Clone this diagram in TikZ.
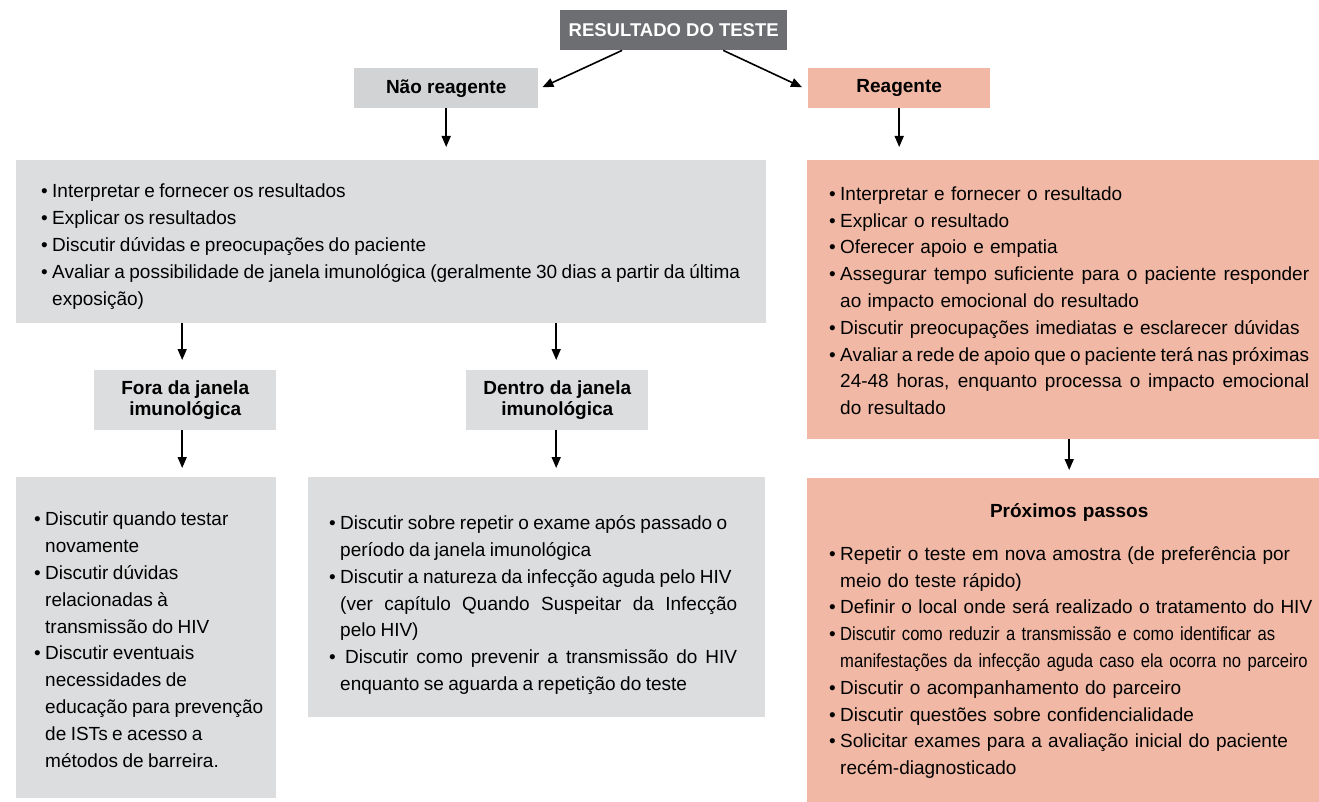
\documentclass[tikz,border=0pt]{standalone}
\usepackage{fontspec}
\setmainfont{Liberation Sans}
\newfontfamily\condfont[FakeStretch=0.875]{Liberation Sans}
\usetikzlibrary{arrows.meta,calc}
\definecolor{darkg}{HTML}{6D6E71}
\definecolor{labg}{HTML}{D1D3D4}
\definecolor{boxg}{HTML}{DCDDDE}
\definecolor{salm}{HTML}{F1B9A5}
\newcommand\bu{\makebox[11pt][l]{•}}
\newcommand\ci{\hspace*{11pt}}
\newcommand\jl[2]{\makebox[#1][s]{\spaceskip=.26em plus .6em minus .12em\relax #2}}
\newcommand\gsp{\spaceskip=.235em plus .2em minus .05em\relax}
\tikzset{
  box/.style={rectangle, inner sep=0pt, anchor=north west},
  lab/.style={box, font=\bfseries\fontsize{19}{21}\selectfont, align=center},
  txt/.style={anchor=west, inner sep=0pt, align=left, text width=900pt,
              font=\fontsize{19}{26.8}\selectfont},
  arr/.style={-{Triangle[length=11pt,width=9pt]}, line width=1.6pt}
}
\begin{document}
\begin{tikzpicture}[x=1pt,y=-1pt]
\useasboundingbox[fill=white] (0,0) rectangle (1319,802);

% label boxes
\node[lab, fill=darkg, text=white, minimum width=227pt, minimum height=40pt,
      font=\bfseries\fontsize{18.5}{20}\selectfont] (top) at (560,10) {RESULTADO DO TESTE};
\node[lab, fill=labg, minimum width=184pt, minimum height=40pt] (nao) at (354,68) {Não reagente};
\node[lab, fill=salm, minimum width=182pt, minimum height=40pt] (reag) at (808,68) {Reagente};
\node[lab, fill=boxg, minimum width=182pt, minimum height=60pt] (fora) at (94,370) {Fora da janela\\imunológica};
\node[lab, fill=boxg, minimum width=182pt, minimum height=60pt] (dentro) at (466,370) {Dentro da janela\\imunológica};

% big boxes
\node[box, fill=boxg, minimum width=750pt, minimum height=163pt] (g1) at (16,160) {};
\node[box, fill=salm, minimum width=512pt, minimum height=279pt] (s1) at (807,160) {};
\node[box, fill=boxg, minimum width=260pt, minimum height=321pt] (g3) at (16,477) {};
\node[box, fill=boxg, minimum width=457pt, minimum height=240pt] (g4) at (308,477) {};
\node[box, fill=salm, minimum width=512pt, minimum height=324pt] (s2) at (807,478) {};

% texts
\node[txt] (g1t) at ($(g1.west)+(25,5)$) {\gsp
\bu Interpretar e fornecer os resultados\\
\bu Explicar os resultados\\
\bu Discutir dúvidas e preocupações do paciente\\
\bu Avaliar a possibilidade de janela imunológica (geralmente 30 dias a partir da última\\
\ci exposição)};

\node[txt] (s1t) at ($(s1.west)+(22,1)$) {%
\bu Interpretar e fornecer o resultado\\
\bu Explicar o resultado\\
\bu Oferecer apoio e empatia\\
\bu\jl{469pt}{Assegurar tempo suficiente para o paciente responder}\\
\ci ao impacto emocional do resultado\\
\bu Discutir preocupações imediatas e esclarecer dúvidas\\
\bu\jl{469pt}{Avaliar a rede de apoio que o paciente terá nas próximas}\\
\ci\jl{469pt}{24-48 horas, enquanto processa o impacto emocional}\\
\ci do resultado};

\node[txt] (g3t) at ($(g3.west)+(18,2)$) {\gsp
\bu Discutir quando testar\\
\ci novamente\\
\bu Discutir dúvidas\\
\ci relacionadas à\\
\ci transmissão do HIV\\
\bu Discutir eventuais\\
\ci necessidades de\\
\ci educação para prevenção\\
\ci de ISTs e acesso a\\
\ci métodos de barreira.};

\node[txt] (g4t) at ($(g4.west)+(21,8)$) {\gsp
\bu Discutir sobre repetir o exame após passado o\\
\ci período da janela imunológica\\
\bu Discutir a natureza da infecção aguda pelo HIV\\
\ci\jl{397pt}{(ver capítulo Quando Suspeitar da Infecção}\\
\ci pelo HIV)\\
\bu\hspace*{5pt}\jl{392pt}{Discutir como prevenir a transmissão do HIV}\\
\ci enquanto se aguarda a repetição do teste};

\node[txt] (s2t) at ($(s2.west)+(22,1)$) {%
\makebox[480pt]{\bfseries Próximos passos}\\[16pt]
\bu Repetir o teste em nova amostra (de preferência por\\
\ci meio do teste rápido)\\
\bu Definir o local onde será realizado o tratamento do HIV\\
\bu{\condfont Discutir como reduzir a transmissão e como identificar as}\\
\ci{\condfont manifestações da infecção aguda caso ela ocorra no parceiro}\\
\bu Discutir o acompanhamento do parceiro\\
\bu Discutir questões sobre confidencialidade\\
\bu Solicitar exames para a avaliação inicial do paciente\\
\ci recém-diagnosticado};

% connectors
\draw[arr] ($(top.south west)!0.273!(top.south east)$) -- ($(nao.east)+(4,-1)$);
\draw[arr] ($(top.south west)!0.718!(top.south east)$) -- ($(reag.west)+(-6,-1)$);
\draw[arr] (nao.south) -- ($(g1.north -| nao.south)+(0,-13)$);
\draw[arr] (reag.south) -- ($(s1.north -| reag.south)+(0,-13)$);
\coordinate (fx) at ($(fora.north)+(-3,0)$);
\coordinate (dx) at ($(dentro.north)+(-1,0)$);
\coordinate (sx) at ($(s2.north)+(6,0)$);
\draw[arr] (g1.south -| fx) -- ($(fx)+(0,-10)$);
\draw[arr] (g1.south -| dx) -- ($(dx)+(0,-10)$);
\draw[arr] (fora.south -| fx) -- ($(g3.north -| fx)+(0,-9)$);
\draw[arr] (dentro.south -| dx) -- ($(g4.north -| dx)+(0,-9)$);
\draw[arr] (s1.south -| sx) -- ($(sx)+(0,-8)$);
\end{tikzpicture}
\end{document}
